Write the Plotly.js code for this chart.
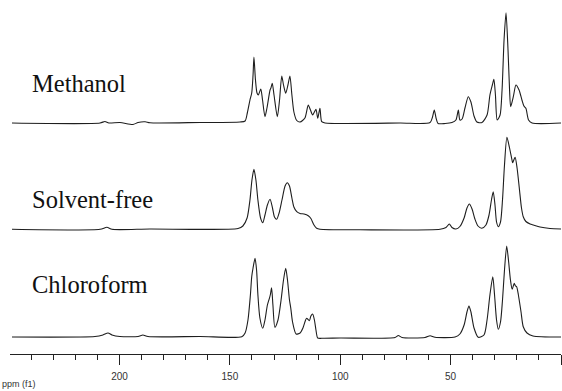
<!DOCTYPE html>
<html>
<head>
<meta charset="utf-8">
<script src="https://cdn.plot.ly/plotly-3.0.1.min.js"></script>
<style>html,body{margin:0;padding:0;background:#fff}#chart{width:562px;height:391px}</style>
</head>
<body>
<div id="chart"></div>
<script>
// Series names
var seriesNames = ["Methanol", "Solvent-free", "Chloroform"];

// Methanol spectrum: chemical shift (ppm) and relative intensity
var methanolPpm = [248.7,208.8,206.6,204.8,199.8,193.9,191.6,188.4,186.2,163.5,145.4,143.1,142.1,140.9,140.1,139.5,139.1,138.4,137.7,137.1,136.0,135.2,134.1,133.2,131.8,131.4,130.8,130.0,128.5,127.5,126.5,125.7,124.7,123.7,122.8,121.9,121.0,119.7,118.2,116.0,114.5,113.5,112.5,111.0,110.2,109.2,108.4,106.9,72.9,59.3,58.2,57.4,56.6,55.7,52.5,49.4,47.6,46.5,45.8,44.8,43.5,42.0,40.8,39.4,38.1,35.8,33.5,32.2,31.1,30.4,29.7,28.9,27.6,26.7,25.8,24.9,24.0,23.3,22.8,21.6,20.4,19.0,17.7,16.8,15.9,14.7,13.1,0];
var methanolInt = [0,0,1.5,0,0.5,-1.5,0.5,1.2,0.2,0.5,1,2,10,23,30,48,66,43,30,28,34,23,6.3,15,33,35,39.7,28,6.3,23,47,38,29.7,38,47,28,11,2.5,1,5,18,13,8,13.7,4.7,14.7,1.3,0,0,0.5,6,13,5,-0.5,-0.5,0.5,3,13,3,4,15,26.3,21,7,1,0.5,8,28,38,43.7,28,3,8,33,83,110.3,73,33,16.3,26.3,38,33,23,17,14.7,3,0,0];

// Solvent-free spectrum
var solventFreePpm = [248.7,208.8,205.7,203.4,186.2,146.3,144.1,142.2,140.9,140.0,139.1,138.2,137.3,136.1,135.1,134.1,133.0,131.8,130.7,129.8,128.8,127.7,126.4,125.0,124.0,123.0,121.9,121.0,119.7,118.2,116.4,114.5,113.3,111.9,110.7,109.2,91.1,54.8,52.1,50.6,49.4,47.6,45.8,43.9,42.6,41.5,40.3,39.0,37.6,35.9,34.0,32.6,31.5,30.7,29.9,29.2,28.4,27.4,26.5,25.6,24.5,23.3,22.2,21.9,20.8,19.9,18.8,17.9,17.1,15.9,14.0,12.5,9.5,5.0,0];
var solventFreeInt = [0,0,2,0,0.3,0.8,3.3,11.3,29.3,49.3,60,49.3,29.3,11.3,6.6,14.3,24.3,30,21.3,12.3,10,16.3,29.3,43.3,46.6,43.3,31.3,22.3,17.6,15.8,15.3,13.6,10.8,4.3,1,0,-0.5,0,1.8,5.3,1.8,0.3,2.8,11.3,21.3,25.3,20.3,10.3,3.3,1,4.3,14.3,29.3,37.6,24.3,7.3,2.6,7.3,29.3,64.3,92,81.3,69.3,66.6,72,61.3,39.3,21.3,12.6,7.8,5.3,4.3,2.3,0.8,0.3];

// Chloroform spectrum
var chloroformPpm = [248.7,211.1,207.5,205.2,203.4,199.8,191.6,189.4,187.1,163.5,144.6,143.1,141.8,140.7,140.1,139.5,138.6,137.9,137.3,136.4,135.1,134.1,133.0,132.1,131.6,131.1,130.5,129.6,128.2,126.8,125.7,124.7,123.9,123.0,122.4,121.6,120.0,118.2,116.9,115.7,115.2,114.0,113.3,112.5,111.7,111.0,110.2,108.3,100.1,75.2,73.7,72.0,61.6,59.3,57.1,48.0,45.8,43.9,42.6,41.7,40.8,39.4,37.5,34.9,33.5,32.2,30.9,30.1,29.2,28.4,27.4,26.5,25.6,24.6,23.8,22.9,22.1,21.2,20.6,20.1,19.3,18.1,17.1,15.4,12.7,0];
var chloroformInt = [0,0.5,2,4,2,0.5,0.5,2,0.5,0.5,0.3,4,17,42,60.3,69,78.7,67,42,19,8.7,17,32,38.7,43,49.3,32,9.7,17,37,57,68.7,57,37,28.7,15,3,4,9,17,18.7,16.3,21,23,17,7,-1,-1.3,-1,-0.5,1.5,-0.5,-0.5,1.2,-0.3,0,3,12,25,31,25,9,-0.3,2,17,42,60.3,42,17,7.7,15,37,67,91,77,57,47.7,53.7,51,50.3,42,25,10.3,4,1,0];

// Axis ticks
var majorTicks = [200, 150, 100, 50, 0];
var majorTickLabels = ["200", "150", "100", "50", ""];
var minorTicks = [240,230,220,210,190,180,170,160,140,130,120,110,90,80,70,60,40,30,20,10];
var axisTitle = "ppm (f1)";

// Layout constants (vertical stacking offsets)
var offsets = [231, 124.7, 17];
var labelY = [0.7655, 0.4359, 0.1958];

var ppmList = [methanolPpm, solventFreePpm, chloroformPpm];
var intList = [methanolInt, solventFreeInt, chloroformInt];

var traces = seriesNames.map(function (name, i) {
  return {
    type: "scatter",
    mode: "lines",
    name: name,
    x: ppmList[i],
    y: intList[i].map(function (v) { return v + offsets[i]; }),
    line: { color: "#1e1e1e", width: 1.1, shape: "spline", smoothing: 0.7 },
    hoverinfo: "skip"
  };
});

var annotations = seriesNames.map(function (name, i) {
  return {
    xref: "paper", yref: "paper",
    x: 20 / 551, y: labelY[i],
    xanchor: "left", yanchor: "middle",
    text: name, showarrow: false,
    font: { family: "Liberation Serif, Times New Roman, serif", size: 24.5, color: "#111" }
  };
});
annotations.push({
  xref: "paper", yref: "paper",
  x: 0, y: 0, xshift: -10, yshift: -30,
  xanchor: "left", yanchor: "middle",
  text: axisTitle, showarrow: false,
  font: { family: "Liberation Sans, Arial, sans-serif", size: 9, color: "#333" }
});

var layout = {
  width: 562, height: 391,
  margin: { l: 10, r: 1, t: 0, b: 37 },
  paper_bgcolor: "#fff", plot_bgcolor: "#fff",
  showlegend: false,
  xaxis: {
    range: [249.6, 0],
    showgrid: false, zeroline: false,
    showline: true, linecolor: "#222", linewidth: 1,
    ticks: "outside", ticklen: 10, tickwidth: 1, tickcolor: "#222",
    tickmode: "array", tickvals: majorTicks, ticktext: majorTickLabels,
    ticklabelstandoff: 3,
    tickfont: { family: "Liberation Sans, Arial, sans-serif", size: 10, color: "#333" },
    minor: { tickmode: "array", tickvals: minorTicks, ticks: "outside", ticklen: 5, tickwidth: 1, tickcolor: "#222", showgrid: false }
  },
  yaxis: { visible: false, range: [0, 354], fixedrange: true },
  annotations: annotations
};

Plotly.newPlot("chart", traces, layout, { staticPlot: true, displayModeBar: false });
</script>
</body>
</html>
